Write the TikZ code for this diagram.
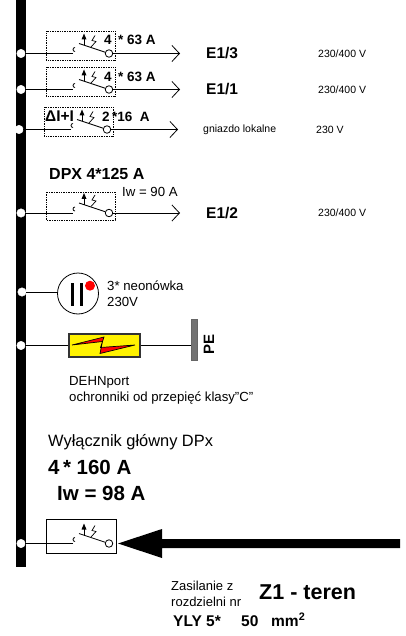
\documentclass[tikz,border=0pt]{standalone}
\usepackage{fontspec}
\setmainfont{Liberation Sans}
\usetikzlibrary{arrows.meta}
\tikzset{
  busdot/.style={circle,draw=white,fill=white,line width=0.4pt,minimum size=8.5pt,inner sep=0pt},
  ring/.style={circle,draw=black,fill=white,line width=0.8pt,minimum size=7.5pt,inner sep=0pt},
  wire/.style={line width=0.8pt},
  openarrow/.style={-{Straight Barb[length=7.5pt,width=16pt,line width=0.8pt]}},
  bold/.style={font=\bfseries\fontsize{13.5}{15}\selectfont,inner sep=0pt,anchor=west},
  bigbold/.style={font=\bfseries\fontsize{15.5}{17}\selectfont,inner sep=0pt,anchor=west},
  hugebold/.style={font=\bfseries\fontsize{20.5}{23}\selectfont,inner sep=0pt,anchor=west},
  small/.style={font=\fontsize{10.5}{12}\selectfont,inner sep=0pt,anchor=west},
  normal/.style={font=\fontsize{13.2}{16}\selectfont,inner sep=0pt,anchor=west,align=left},
  dotbox/.style={draw=black,densely dotted,line width=0.7pt},
}
\newcommand{\brk}[5]{% name, left x, top y, bottom y, wire y
  \coordinate (#1c) at (#2+27,#5);
  \draw[wire] (#2+29,#5-2) arc (90:270:2);
  \node[ring] (#1r) at (#2+63,#5) {};
  \coordinate (#1h) at (#2+33,#5-10);
  \draw[wire] (#1h) -- (#1r);
  \draw[wire,line width=0.7pt] (#2+49,#5-18) -- (#2+46,#5-13) -- (#2+50,#5-12) -- (#2+45,#5-6.5);
  \draw[wire] (#2+38,#5-8) -- (#2+38,#5-15);
  \fill (#2+38,#5-20) -- (#2+35.5,#5-14) -- (#2+40.5,#5-14) -- cycle;
}
\begin{document}
\begin{tikzpicture}[x=1pt,y=-1pt]
\useasboundingbox (0,0) rectangle (405,636);
\fill[black] (16,0) rectangle (26,567);
% breakers
\node[busdot] (d1) at (21,53.5) {};
\draw[dotbox] (46,31.5) rectangle (115,60);
\brk{a}{46}{31}{60}{53.5}
\draw[wire] (d1) -- (ac);
\coordinate (e1) at (180,53.5);
\draw[wire,openarrow] (ar) -- (e1);
\node[bold] at (104,40) {4};
\node[bold] at (118,40) {* 63 A};
\node[bigbold] at (206,53.5) {E1/3};
\node[small] at (318,53.5) {230/400 V};

\node[busdot] (d2) at (21,89.5) {};
\draw[dotbox] (46,67.5) rectangle (115,96);
\brk{b}{46}{67}{96}{89.5}
\draw[wire] (d2) -- (bc);
\coordinate (e2) at (180,89.5);
\draw[wire,openarrow] (br) -- (e2);
\node[bold] at (104,76.5) {4};
\node[bold] at (118,76.5) {* 63 A};
\node[bigbold] at (206,89.5) {E1/1};
\node[small] at (318,89.5) {230/400 V};

\node[busdot] (d3) at (19,129.5) {};
\draw[dotbox] (44,107.5) rectangle (113,136);
\brk{c}{44}{107}{136}{129.5}
\draw[wire] (d3) -- (cc);
\coordinate (e3) at (178,129.5);
\draw[wire,openarrow] (cr) -- (e3);
\node[bigbold] at (45,116.5) {ΔI+I};
\node[bold] at (102,116.5) {2};
\node[bold] at (112,116.5) {*16\ \ A};
\node[small] at (203,130) {gniazdo lokalne};
\node[small] at (316,130) {230 V};

\node[font=\bfseries\fontsize{16}{18}\selectfont,inner sep=0pt,anchor=west] at (49,174) {DPX 4*125 A};
\node[normal] at (122,192) {Iw = 90 A};
\node[busdot] (d4) at (21,213) {};
\draw[dotbox] (46,192) rectangle (115,220);
\brk{d}{46}{192}{220}{213}
\draw[wire] (d4) -- (dc);
\coordinate (e4) at (180,213);
\draw[wire,openarrow] (dr) -- (e4);
\node[bigbold] at (206,213) {E1/2};
\node[small] at (318,213) {230/400 V};

% neon
\node[busdot] (d5) at (22,292) {};
\node[circle,draw=black,line width=0.8pt,minimum size=41pt,inner sep=0pt] (neon) at (78,293.5) {};
\draw[wire] (d5) -- (d5 -| neon.west);
\draw[line width=3.2pt] (72.3,283) -- (72.3,306);
\draw[line width=3.2pt] (81.7,283) -- (81.7,306);
\fill[red] (90,285.7) circle (5);
\node[normal] at (107,294) {3* neonówka\\230V};

% SPD
\node[busdot] (d6) at (21,345.5) {};
\node[draw=black!80,fill=yellow,line width=1.2pt,minimum width=71pt,minimum height=23pt,inner sep=0pt] (spd) at (104.5,345.5) {};
\node[draw=black!60,fill=black!55,line width=0.5pt,minimum width=5.5pt,minimum height=41pt,inner sep=0pt] (pe) at (194,339.5) {};
\draw[line width=1pt] (d6) -- (spd);
\draw[line width=1pt] (spd.east) -- (pe.west |- spd.east);
\draw[black,fill=red,line width=0.7pt,line join=miter] (72,345) -- (104,337) -- (100.5,347.5) -- (135,345) -- (100,353.5) -- (102.5,341.5) -- cycle;
\node[font=\bfseries\fontsize{15}{17}\selectfont,inner sep=0pt,rotate=90] at (209,344) {PE};
\node[font=\fontsize{13.2}{16}\selectfont,inner sep=0pt,anchor=west,align=left] at (69,390) {DEHNport\\ochronniki od przepięć klasy"C"};

% main
\node[font=\fontsize{16.4}{19}\selectfont,inner sep=0pt,anchor=west] at (48,442) {Wyłącznik główny DPx};
\node[hugebold] at (48,467) {4\,* 160 A};
\node[hugebold] at (57,493) {Iw = 98 A};

\node[busdot] (d7) at (21,543.5) {};
\draw[wire] (46,519) rectangle (116,553);
\brk{e}{46}{519}{553}{543.5}
\draw[wire] (d7) -- (ec);
\coordinate (feed) at (400,543.5);
\coordinate (feedtip) at (118,543.5);
\fill (feedtip) -- (162,529) -- (162,539) -- (feed|-0,539) -- (feed|-0,548) -- (162,548) -- (162,558) -- cycle;

\node[font=\fontsize{13}{16}\selectfont,inner sep=0pt,anchor=west,align=left] at (171,594) {Zasilanie z\\rozdzielni nr};
\node[font=\bfseries\fontsize{21.5}{24}\selectfont,inner sep=0pt,anchor=west] at (259,592) {Z1 - teren};
\node[bigbold,anchor=base west] at (173,626) {YLY 5*};
\node[bigbold,anchor=base west] at (241,626) {50};
\node[bigbold,anchor=base west] at (271,626) {mm\textsuperscript{2}};
\end{tikzpicture}
\end{document}
